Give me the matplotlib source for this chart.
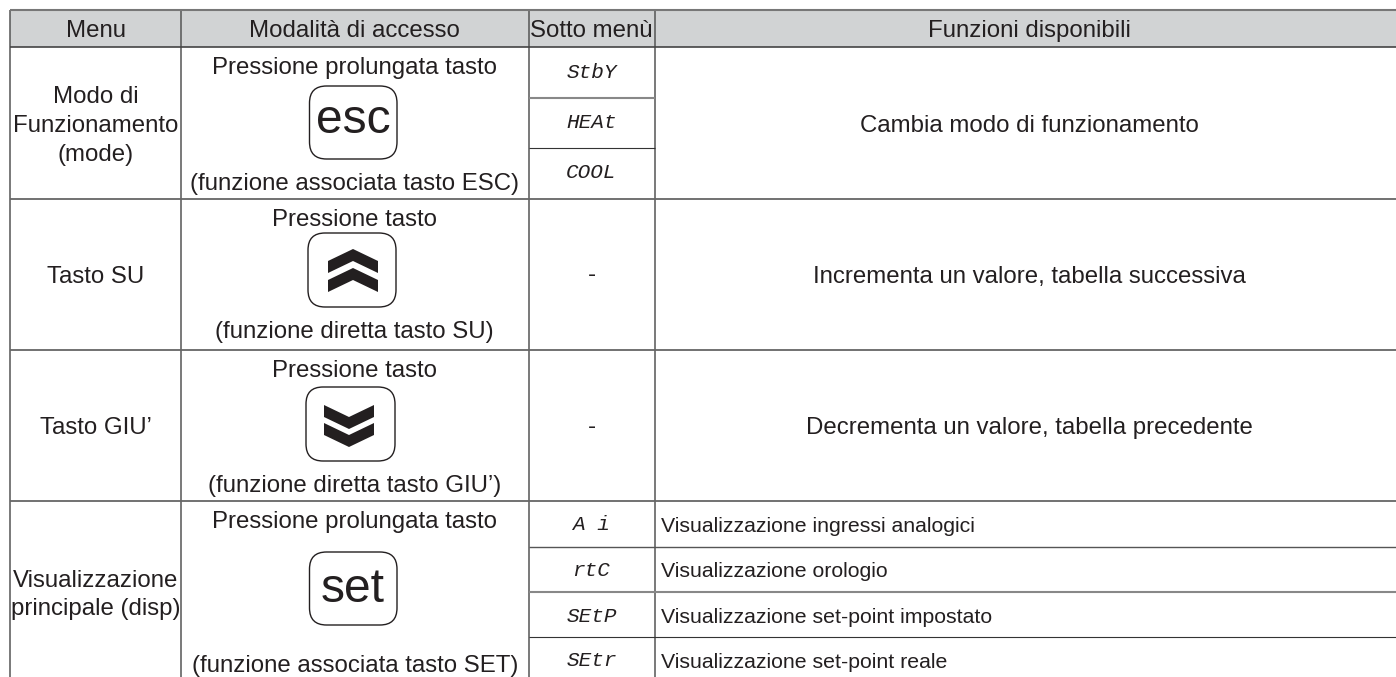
import matplotlib
matplotlib.use("Agg")
import matplotlib.pyplot as plt
from matplotlib.patches import FancyBboxPatch, Polygon, Rectangle

plt.rcParams['font.family'] = ['Liberation Sans', 'DejaVu Sans']

headers = ["Menu", "Modalità di accesso", "Sotto menù", "Funzioni disponibili"]
menus = ["Modo di\nFunzionamento\n(mode)", "Tasto SU", "Tasto GIU’", "Visualizzazione\nprincipale (disp)"]
access_top = ["Pressione prolungata tasto", "Pressione tasto", "Pressione tasto", "Pressione prolungata tasto"]
access_bottom = ["(funzione associata tasto ESC)", "(funzione diretta tasto SU)",
                 "(funzione diretta tasto GIU’)", "(funzione associata tasto SET)"]
sub_mode = ["StbY", "HEAt", "COOL"]
sub_disp = ["A i", "rtC", "SEtP", "SEtr"]
func_rows = ["Cambia modo di funzionamento", "Incrementa un valore, tabella successiva",
             "Decrementa un valore, tabella precedente"]
func_disp = ["Visualizzazione ingressi analogici", "Visualizzazione orologio",
             "Visualizzazione set-point impostato", "Visualizzazione set-point reale"]

W, H = 1396, 677
px = 72 / 100  # font px to pt

fig = plt.figure(figsize=(W / 100, H / 100), dpi=100)
ax = fig.add_axes([0, 0, 1, 1])
ax.set_xlim(0, W)
ax.set_ylim(H, 0)
ax.axis('off')

# table grid, it runs off the right edge
cols = [10, 181, 528.5, 654.5, 1404]
top, head = 9.5, 47
rows = [199, 350, 501]
line = '#555555'

ax.add_patch(Rectangle((cols[0], top), cols[4] - cols[0], head - top, fc='#d1d3d4', ec='none'))
for x in cols[:4]:
    ax.plot([x, x], [top, H], color=line, lw=1.1, solid_capstyle='butt')
ax.plot([cols[0], cols[4]], [top, top], color='#777777', lw=1.5, solid_capstyle='butt')
ax.plot([cols[0], cols[4]], [head, head], color='#444444', lw=1.2, solid_capstyle='butt')
for y in rows:
    ax.plot([cols[0], cols[4]], [y, y], color='#666666', lw=1.3, solid_capstyle='butt')

# inner lines of the sub menu column are not all the same
for y, c, w in [(98, '#888888', 1.5), (148, '#333333', 0.8), (547, '#555555', 1.0),
                (592, '#888888', 1.5), (637, '#333333', 0.8)]:
    ax.plot([cols[2], cols[3]] if y < 500 else [cols[2], cols[4]], [y, y], color=c, lw=w, solid_capstyle='butt')

fs = 24 * px
ink = '#231f20'

def label(x, y, s, size=fs, va='baseline', **kw):
    ax.text(x, y, s, fontsize=size, color=ink, ha=kw.pop('ha', 'center'), va=va, **kw)

header_x = [(cols[0] + cols[1]) / 2, (cols[1] + cols[2]) / 2, (cols[2] + cols[3]) / 2, 1029]
for x, h in zip(header_x, headers):
    label(x, 37, h)

menu_y = [126, 277, 428, 595]
for m, y in zip(menus, menu_y):
    label((cols[0] + cols[1]) / 2, y, m, va='center', linespacing=1.41)

mid = (cols[1] + cols[2]) / 2
for s, y in zip(access_top, [74, 226, 377, 528]):
    label(mid, y, s)
for s, y in zip(access_bottom, [190, 338, 492, 672]):
    label(mid, y, s)

# key buttons
def button(x0, x1, y0, y1):
    r = 17
    ax.add_patch(FancyBboxPatch((x0 + r, y0 + r), x1 - x0 - 2 * r, y1 - y0 - 2 * r,
                                boxstyle="round,pad=%d,rounding_size=%d" % (r, r),
                                fc='white', ec='#231f20', lw=1.0))

button(309.5, 397, 86, 159)
label(353, 133, "esc", size=48 * px)
button(308, 396, 233, 307)
button(306, 395, 387, 461)
button(309.5, 397, 552, 625)
label(353, 602, "set", size=48 * px)

def chevron(cx, y, d):
    # y is the apex, d=1 points up, d=-1 points down
    w, tip, t = 25, 12, 12
    ax.add_patch(Polygon([(cx - w, y + d * tip), (cx, y), (cx + w, y + d * tip),
                          (cx + w, y + d * (tip + t)), (cx, y + d * t), (cx - w, y + d * (tip + t))],
                         fc='#231f20', ec='none'))

chevron(353, 249, 1)
chevron(353, 268, 1)
chevron(349, 429, -1)
chevron(349, 447, -1)

# display codes
sub_x = (cols[2] + cols[3]) / 2
for s, y in zip(sub_mode, [73, 123, 173]):
    label(sub_x, y, s, size=21 * px, va='center', family='Liberation Mono', style='italic')
for s, y in zip(sub_disp, [524, 571, 616, 660]):
    label(sub_x, y, s, size=21 * px, va='center', family='Liberation Mono', style='italic')
label(sub_x, 281, "-")
label(sub_x, 433, "-")

for s, y in zip(func_rows, [132, 283, 434]):
    label(1029, y, s)
for s, y in zip(func_disp, [532, 577, 623, 668]):
    label(661, y, s, size=21.3 * px, ha='left')

fig.savefig('out.png', dpi=100, facecolor='white')
